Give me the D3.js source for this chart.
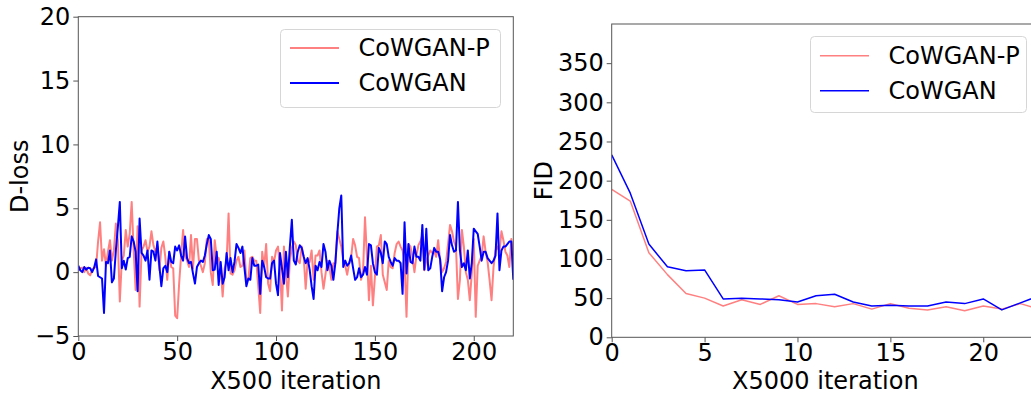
<!DOCTYPE html>
<html>
<head>
<meta charset="utf-8">
<script src="https://cdn.jsdelivr.net/npm/d3@7"></script>
<style>
  html, body { margin: 0; padding: 0; background: #fff; }
  svg { display: block; font-family: "DejaVu Sans", sans-serif; }
</style>
</head>
<body>
<svg id="chart" width="1031" height="395"></svg>
<script>
// Discriminator loss per 500 iterations
const dlossCoWGANP = [
  0.15, 0.3, 0.35, 0.0, 0.35, -0.1, -0.25, 0.2, 0.35, 0.4,
  2.4, 3.9, 0.9, 1.8, 0.5, 1.6, 2.5, 0.9, 1.7, 3.8,
  2.5, -2.3, 0.9, 1.3, 3.3, 2.0, 3.0, 5.5, 1.7, -1.4,
  3.6, -2.7, 1.7, 2.0, 2.5, 1.6, 2.0, 3.2, 2.1, 1.6,
  2.0, 0.15, 1.9, 2.4, 1.2, -0.6, 1.6, 0.4, 0.3, -3.4,
  -3.6, -0.9, 1.3, 3.3, 1.3, 0.9, 0.4, 2.9, 0.3, 2.6,
  2.6, 0.9, 0.5, 0.0, 0.7, 2.6, 2.6, 0.0, -1.0, 2.5,
  1.2, 1.1, 0.4, -1.9, 0.3, 0.8, 4.6, -0.1, -0.2, 0.15,
  0.9, 1.2, 0.4, 0.5, 1.7, -0.6, -0.6, 1.1, 1.2, 0.9,
  0.9, -1.1, -3.2, 1.6, 0.4, 2.2, -0.9, -1.5, 1.2, 0.8,
  1.7, 2.0, 0.3, -3.0, 2.0, -0.1, -1.9, 0.9, 1.9, 2.4,
  2.1, 0.9, 0.7, 2.0, 1.2, -1.3, 0.9, 0.8, 1.7, -0.6,
  1.3, 1.3, 1.7, 0.0, -1.3, -0.2, 0.9, 0.4, -0.6, 0.7,
  0.7, 3.2, 2.6, 2.0, 0.9, 0.5, -0.2, 0.7, 1.2, 2.6,
  2.1, 1.2, 1.1, -0.6, 0.0, 4.3, 1.2, -2.2, 0.5, -2.6,
  -0.4, 2.0, 2.1, 2.9, -0.2, -0.8, -1.4, 0.9, 0.4, 0.3,
  1.5, 2.2, 2.4, 2.0, 1.7, 0.7, -3.5, 2.2, 2.0, 1.2,
  0.0, 1.3, 2.1, 2.4, 2.9, 0.15, 0.9, 1.3, 1.7, 1.5,
  1.6, 1.2, 2.5, 0.9, 0.0, 0.3, 0.8, 2.2, 3.7, 3.2,
  2.4, 2.0, -2.1, -0.6, 3.3, 2.0, 0.0, -0.6, -2.2, -0.1,
  2.6, -3.5, 0.5, 0.9, 1.3, 2.8, 1.6, 0.8, -0.6, -2.2,
  0.4, 1.7, 2.0, 1.6, 3.2, 2.5, 1.6, 1.3, 0.4, 2.6,
  1.3
];
const dlossCoWGAN = [
  0.5, 0.15, 0.0, 0.4, 0.2, 0.35, 0.3, 0.0, 0.35, 1.0,
  -0.3, -0.4, -0.5, -3.2, 0.8, 0.7, 1.7, -0.8, -0.5, 1.7,
  3.5, 5.5, 0.3, 0.9, 0.2, 1.1, 1.2, 2.8, 2.4, 1.6,
  -1.5, 4.2, 1.5, 1.3, 0.9, 1.7, -0.6, 1.7, 1.6, 0.9,
  2.4, 0.5, -1.1, 0.3, 0.5, 0.0, 1.6, 0.8, 0.7, 2.0,
  1.7, 2.1, 1.3, 0.9, 2.8, 1.1, 0.7, 0.8, -0.1, -0.9,
  0.4, 0.7, 0.9, 0.8, 1.3, 2.2, 2.9, 2.6, 0.15, 0.2,
  1.6, -1.0, 0.8, -0.9, -0.4, 1.5, 0.15, 1.1, 0.0, 0.8,
  2.2, 1.9, 1.5, 2.0, 0.4, -1.1, -0.5, -0.6, 1.1, 0.5,
  0.5, 0.6, -1.7, 0.9, 0.4, -0.4, -0.5, -0.5, 0.7, 0.9,
  -0.9, -1.8, 1.5, 0.3, -0.9, 1.6, -0.4, 2.0, 4.1, 0.9,
  0.6, 1.6, 2.1, 1.9, 1.2, 0.7, 1.1, 0.2, -1.1, -2.1,
  0.5, 0.15, 0.8, 0.4, 2.2, 1.6, 0.15, 0.9, 0.5, -0.6,
  0.7, 3.0, 5.0, 6.0, 0.4, 0.9, 0.5, 0.7, 1.3, 0.3,
  -0.6, -0.4, 0.3, -0.4, -0.2, 0.4, -0.2, 2.2, 2.1, 0.7,
  0.0, -0.2, 1.9, 1.5, 0.7, 2.4, 2.2, 1.2, 0.8, 0.5,
  1.1, 0.9, 0.9, 0.7, -1.7, 3.9, -0.1, 2.2, 0.8, 0.7,
  2.0, 1.2, 1.2, 0.9, 3.7, 0.2, 3.4, 0.15, 0.3, 1.2,
  1.9, 1.6, 1.6, 1.0, -1.5, -0.4, 0.0, 0.9, 2.9, 2.1,
  1.6, 1.7, 5.5, 1.7, 0.4, 0.7, 0.15, 1.7, -0.5, 0.7,
  3.4, 3.2, 3.0, 2.0, 0.9, 1.6, 1.6, 1.1, 0.9, 0.7,
  0.9, 1.3, 4.6, 0.15, 1.7, 2.0, 2.0, 2.2, 2.4, 2.4,
  -0.6
];

// FID per 5000 iterations
const fidCoWGANP = [189, 174, 108, 80, 56, 50, 40, 48, 42, 53, 42, 43, 39, 43, 36, 43, 37, 35, 39, 34, 40, 36, 43, 36];
const fidCoWGAN  = [233, 184, 119, 90, 85, 86, 49, 50, 49, 48, 45, 53, 55, 45, 40, 41, 40, 40, 45, 43, 49, 35, 44, 53];

// Tick values and labels
const dlossXTicks = [0, 50, 100, 150, 200];
const dlossYTicks = [-5, 0, 5, 10, 15, 20];
const fidXTicks = [0, 5, 10, 15, 20];
const fidYTicks = [0, 50, 100, 150, 200, 250, 300, 350];
const seriesNames = ["CoWGAN-P", "CoWGAN"];
const seriesColors = ["#ff8080", "#0000ff"];

const svg = d3.select("#chart");
svg.append("rect").attr("width", 1031).attr("height", 395).attr("fill", "#fff");

const FONT = 24;

function panel(opts) {
  const { left, right, top, bottom, xDomain, yDomain, xTicks, yTicks,
          series, lineWidth, xLabel, yLabel, yLabelX, legend } = opts;
  const x = d3.scaleLinear().domain(xDomain).range([left, right]);
  const y = d3.scaleLinear().domain(yDomain).range([bottom, top]);

  const g = svg.append("g");
  const clipId = "clip" + Math.round(left);
  g.append("clipPath").attr("id", clipId)
    .append("rect").attr("x", left).attr("y", top)
    .attr("width", right - left).attr("height", bottom - top);

  const plot = g.append("g").attr("clip-path", `url(#${clipId})`);
  series.forEach((s, i) => {
    const line = d3.line().x((d, j) => x(j)).y(d => y(d));
    plot.append("path")
      .datum(s)
      .attr("fill", "none")
      .attr("stroke", seriesColors[i])
      .attr("stroke-width", lineWidth)
      .attr("stroke-linejoin", "round")
      .attr("d", line);
  });

  // spines
  g.append("rect")
    .attr("x", left).attr("y", top)
    .attr("width", right - left).attr("height", bottom - top)
    .attr("fill", "none").attr("stroke", "#555").attr("stroke-width", 1);

  const xAxis = g.append("g").attr("transform", `translate(0,${bottom})`)
    .call(d3.axisBottom(x).tickValues(xTicks).tickSizeOuter(0).tickSize(5).tickPadding(2));
  const yAxis = g.append("g").attr("transform", `translate(${left},0)`)
    .call(d3.axisLeft(y).tickValues(yTicks).tickSizeOuter(0).tickSize(5).tickPadding(3));
  [xAxis, yAxis].forEach(a => {
    a.select(".domain").remove();
    a.selectAll(".tick line").attr("stroke", "#555");
    a.selectAll(".tick text")
      .attr("font-family", "DejaVu Sans")
      .attr("font-size", FONT)
      .attr("fill", "#000");
  });

  g.append("text")
    .attr("x", (left + right) / 2).attr("y", 389)
    .attr("text-anchor", "middle")
    .attr("font-size", FONT).attr("fill", "#000")
    .text(xLabel);
  g.append("text")
    .attr("transform", `translate(${yLabelX},${(top + bottom) / 2}) rotate(-90)`)
    .attr("text-anchor", "middle")
    .attr("dominant-baseline", "central")
    .attr("font-size", FONT).attr("fill", "#000")
    .text(yLabel);

  // legend
  const lg = g.append("g");
  lg.append("rect")
    .attr("x", legend.x).attr("y", legend.y)
    .attr("width", legend.w).attr("height", legend.h)
    .attr("rx", 4).attr("fill", "#fff").attr("fill-opacity", 0.8)
    .attr("stroke", "#d6d6d6").attr("stroke-width", 1);
  seriesNames.forEach((name, i) => {
    const ly = legend.rowY[i];
    lg.append("line")
      .attr("x1", legend.x + 9.5).attr("x2", legend.x + 58.5)
      .attr("y1", ly).attr("y2", ly)
      .attr("stroke", seriesColors[i]).attr("stroke-width", lineWidth);
    lg.append("text")
      .attr("x", legend.x + 78).attr("y", ly)
      .attr("dominant-baseline", "central")
      .attr("font-size", FONT).attr("fill", "#000")
      .text(name);
  });
}

panel({
  left: 78.3, right: 513.3, top: 16.7, bottom: 336,
  xDomain: [0, 220], yDomain: [-5, 20],
  xTicks: dlossXTicks, yTicks: dlossYTicks,
  series: [dlossCoWGANP, dlossCoWGAN], lineWidth: 2,
  xLabel: "X500 iteration", yLabel: "D-loss", yLabelX: 20,
  legend: { x: 280.5, y: 29.5, w: 220, h: 78, rowY: [48, 83] }
});

panel({
  left: 611.7, right: 1039, top: 24, bottom: 337.3,
  xDomain: [0, 23], yDomain: [0, 400],
  xTicks: fidXTicks, yTicks: fidYTicks,
  series: [fidCoWGANP, fidCoWGAN], lineWidth: 1.5,
  xLabel: "X5000 iteration", yLabel: "FID", yLabelX: 544,
  legend: { x: 810.5, y: 36.5, w: 216, h: 76, rowY: [55.7, 90.7] }
});
</script>
</body>
</html>
